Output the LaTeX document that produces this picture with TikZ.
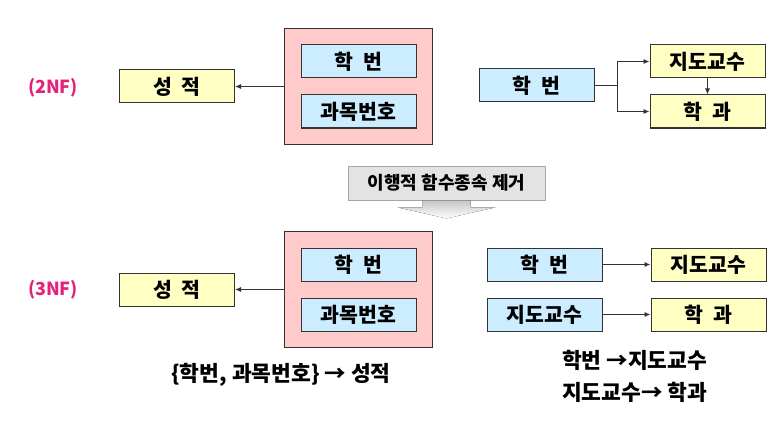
\documentclass[tikz,border=0pt]{standalone}
\usepackage{fontspec}
\setmainfont{Noto Sans CJK KR}
\usepackage{xcolor}
\definecolor{KeyBlue}{HTML}{CCECFF}
\definecolor{DepYellow}{HTML}{FFFFC4}
\definecolor{GroupPink}{HTML}{FFCACA}
\definecolor{NFMagenta}{HTML}{E2237A}
\definecolor{LineGrey}{HTML}{333333}
\usetikzlibrary{
  calc,
  positioning,
  arrows.meta,
  fit,
  backgrounds
}

\begin{document}
\begin{tikzpicture}[
    x=1pt, y=-1pt,
    node distance=16pt and 48pt,
    key/.style={draw=LineGrey, line width=1pt, fill=KeyBlue, minimum width=115pt, minimum height=33pt, inner sep=0pt, font=\fontsize{20.5}{23}\selectfont\bfseries},
    dep/.style={draw=LineGrey, line width=1pt, fill=DepYellow, minimum width=115pt, minimum height=33pt, inner sep=0pt, font=\fontsize{20.5}{23}\selectfont\bfseries},
    grp/.style={draw=LineGrey, line width=1pt, fill=GroupPink, inner sep=16pt},
    nf/.style={text=NFMagenta, font=\fontsize{18}{21}\selectfont\bfseries},
    fd/.style={inner sep=0pt, font=\fontsize{21.5}{24}\selectfont\bfseries},
    rmbox/.style={draw=gray!70, line width=0.8pt, fill=gray!22, minimum width=197pt, minimum height=34pt, inner sep=0pt, font=\fontsize{18}{21}\selectfont\bfseries},
    arr/.style={-{Latex[length=6pt, width=5pt]}, LineGrey, line width=0.9pt}
  ]
  \useasboundingbox (0,0) rectangle (781,425);

  % 2NF
  \node[nf] (nf2) at (53,88) {(2NF)};
  \node[key] (k2a) at (358.5,61.5) {학\ \ 번};
  \node[key, below=of k2a] (k2b) {과목번호};
  \begin{scope}[on background layer]
    \node[grp, fit=(k2a)(k2b)] (p2) {};
  \end{scope}
  \node[dep, left=49pt of p2] (g2) {성\ \ 적};
  \draw[arr] (p2) -- (g2);

  \node[key] (s2) at (536.5,85.5) {학\ \ 번};
  \node[dep] (d2a) at (707.5,61.5) {지도교수};
  \node[dep, below=of d2a] (d2b) {학\ \ 과};
  \coordinate (br2) at ($(s2.east)+(23,0)$);
  \draw[arr] (s2.east) -- (br2) |- (d2a.west);
  \draw[arr] (br2) |- (d2b.west);
  \draw[arr] (d2a) -- (d2b);

  % transition
  \node[rmbox] (rm) at (446.5,183) {이행적 함수종속 제거};
  \fill[top color=gray!45, bottom color=white]
    ($(rm.south)+(-24,0)$) -- ++(0,7) -- ++(-25,0) -- ($(rm.south)+(0,18)$)
    -- ($(rm.south)+(49,7)$) -- ($(rm.south)+(24,7)$) -- ($(rm.south)+(24,0)$) -- cycle;

  % 3NF
  \node[nf] (nf3) at (53,290) {(3NF)};
  \node[key] (k3a) at (358.5,264.5) {학\ \ 번};
  \node[key, below=of k3a] (k3b) {과목번호};
  \begin{scope}[on background layer]
    \node[grp, fit=(k3a)(k3b)] (p3) {};
  \end{scope}
  \node[dep, left=49pt of p3] (g3) {성\ \ 적};
  \draw[arr] (p3) -- (g3);

  \node[key] (s3a) at (544.5,264.5) {학\ \ 번};
  \node[dep, right=of s3a] (d3a) {지도교수};
  \node[key, below=of s3a] (s3b) {지도교수};
  \node[dep, right=of s3b] (d3b) {학\ \ 과};
  \draw[arr] (s3a) -- (d3a);
  \draw[arr] (s3b) -- (d3b);

  \node[fd] (fd1) at (281,375) {\{학번, 과목번호\} → 성적};
  \node[fd, anchor=west] (fd2) at (562,360) {학번 →지도교수};
  \node[fd, anchor=west] (fd3) at (562,392) {지도교수→ 학과};
\end{tikzpicture}
\end{document}
